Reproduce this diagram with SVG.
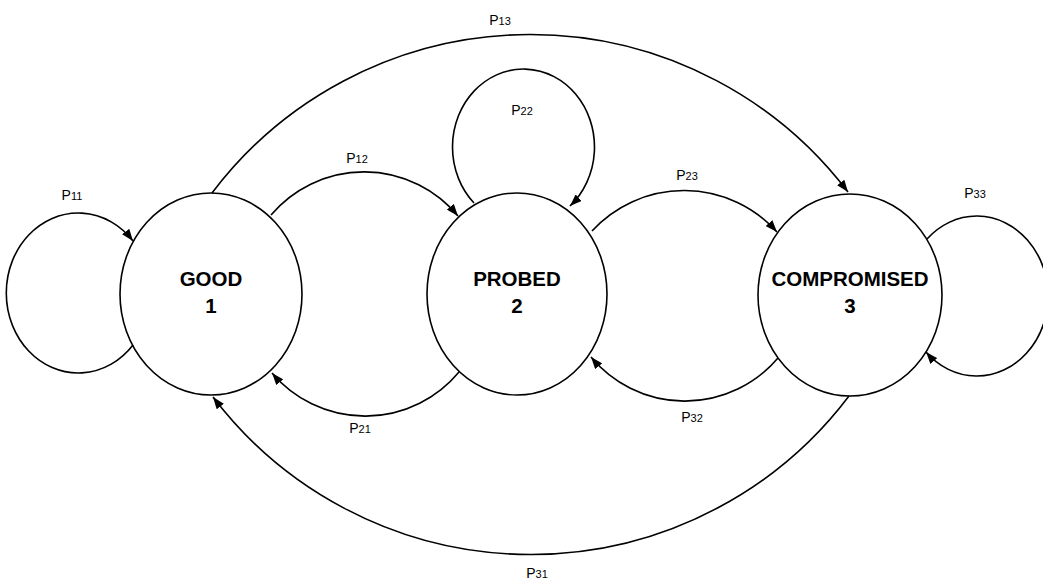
<svg xmlns="http://www.w3.org/2000/svg" width="1043" height="581" viewBox="0 0 1043 581">
<style>
.node{fill:none;stroke:#000;stroke-width:1.6}
.edge{fill:none;stroke:#000;stroke-width:1.6}
.nt{font-family:"Liberation Sans",Arial,sans-serif;font-weight:bold;font-size:20.5px;fill:#000;text-anchor:middle}
.lb{font-family:"Liberation Sans",Arial,sans-serif;font-size:14px;fill:#000;text-anchor:middle}
.sub{font-size:11px}
</style>
<defs>
<marker id="arr" viewBox="0 0 12 9" refX="12" refY="4.5" markerWidth="12" markerHeight="9" markerUnits="userSpaceOnUse" orient="auto">
<path d="M0,0 L12,4.5 L0,9 z" fill="#000"/>
</marker>
</defs>
<rect width="1043" height="581" fill="#fff"/>
<g id="connectors">
<path id="e11" class="edge" d="M133,345 A72,80 0 1 1 133,241" marker-end="url(#arr)"/>
<path id="e22" class="edge" d="M474,203 A71,78 0 1 1 570,206" marker-end="url(#arr)"/>
<path id="e33" class="edge" d="M927,239 A71,80 0 1 1 926,352" marker-end="url(#arr)"/>
<path id="e12" class="edge" d="M271,215 A122,122 0 0 1 458,216" marker-end="url(#arr)"/>
<path id="e21" class="edge" d="M459,372 A122,122 0 0 1 272,373" marker-end="url(#arr)"/>
<path id="e23" class="edge" d="M592,231 A125,125 0 0 1 777,232" marker-end="url(#arr)"/>
<path id="e32" class="edge" d="M778,358 A122,122 0 0 1 591,357" marker-end="url(#arr)"/>
<path id="e13" class="edge" d="M212,193 A399,399 0 0 1 848,192" marker-end="url(#arr)"/>
<path id="e31" class="edge" d="M849,396 A399,399 0 0 1 213,397" marker-end="url(#arr)"/>
<text class="lb" x="72" y="200">P<tspan class="sub">11</tspan></text>
<text class="lb" x="500" y="25">P<tspan class="sub">13</tspan></text>
<text class="lb" x="522" y="115">P<tspan class="sub">22</tspan></text>
<text class="lb" x="357" y="163">P<tspan class="sub">12</tspan></text>
<text class="lb" x="687" y="180">P<tspan class="sub">23</tspan></text>
<text class="lb" x="975" y="198">P<tspan class="sub">33</tspan></text>
<text class="lb" x="360" y="433">P<tspan class="sub">21</tspan></text>
<text class="lb" x="692" y="422">P<tspan class="sub">32</tspan></text>
<text class="lb" x="537" y="578">P<tspan class="sub">31</tspan></text>
</g>
<g id="good">
<ellipse class="node" cx="211" cy="294" rx="91" ry="101"/>
<text class="nt" x="211" y="286">GOOD</text>
<text class="nt" x="211" y="313">1</text>
</g>
<g id="probed">
<ellipse class="node" cx="517" cy="294" rx="90" ry="101"/>
<text class="nt" x="517" y="286">PROBED</text>
<text class="nt" x="517" y="313">2</text>
</g>
<g id="compromised">
<ellipse class="node" cx="850" cy="295" rx="92" ry="101"/>
<text class="nt" x="850" y="286">COMPROMISED</text>
<text class="nt" x="850" y="313">3</text>
</g>
</svg>
